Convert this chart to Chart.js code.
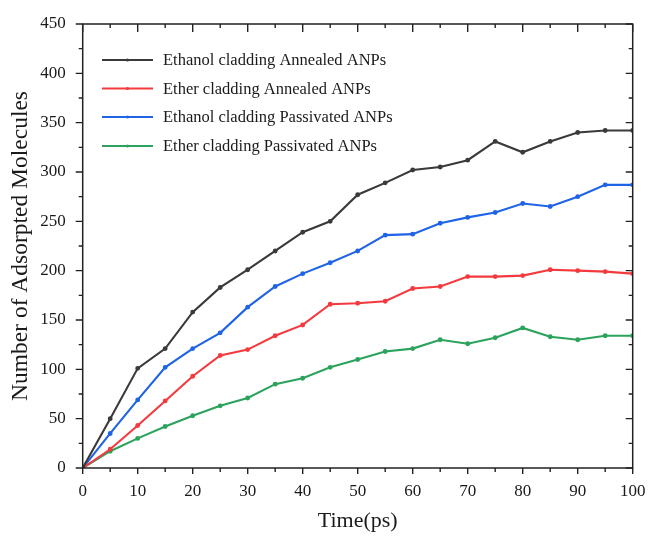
<!DOCTYPE html>
<html>
<head>
<meta charset="utf-8">
<script src="https://cdn.jsdelivr.net/npm/chart.js@4/dist/chart.umd.min.js"></script>
<style>
  html, body { margin: 0; padding: 0; background: #fff; }
  #wrap { width: 649px; height: 538px; position: relative; }
</style>
</head>
<body>
<div id="wrap"><canvas id="c" width="649" height="538"></canvas></div>
<script>
// Adsorption time series, sampled every 5 ps
const timePs = [0, 5, 10, 15, 20, 25, 30, 35, 40, 45, 50, 55, 60, 65, 70, 75, 80, 85, 90, 95, 100];
const ethanolAnnealed   = [0, 50, 101, 121, 158, 183, 201, 220, 239, 250, 277, 289, 302, 305, 312, 331, 320, 331, 340, 342, 342];
const etherAnnealed     = [0, 19, 43, 68, 93, 114, 120, 134, 145, 166, 167, 169, 182, 184, 194, 194, 195, 201, 200, 199, 197];
const ethanolPassivated = [0, 35, 69, 102, 121, 137, 163, 184, 197, 208, 220, 236, 237, 248, 254, 259, 268, 265, 275, 287, 287];
const etherPassivated   = [0, 17, 30, 42, 53, 63, 71, 85, 91, 102, 110, 118, 121, 130, 126, 132, 142, 133, 130, 134, 134];

const seriesLabels = [
  'Ethanol cladding Annealed ANPs',
  'Ether cladding Annealed ANPs',
  'Ethanol cladding Passivated ANPs',
  'Ether cladding Passivated ANPs'
];
const xTicks = [0, 10, 20, 30, 40, 50, 60, 70, 80, 90, 100];
const yTicks = [0, 50, 100, 150, 200, 250, 300, 350, 400, 450];

const colors = ['#3a3a3a', '#f43a3e', '#1f63e6', '#2ba35c'];
const serif = '"Liberation Serif", "Times New Roman", serif';
const axisColor = '#222';

function toPoints(arr) { return arr.map((v, i) => ({ x: timePs[i], y: v })); }

const seriesData = [ethanolAnnealed, etherAnnealed, ethanolPassivated, etherPassivated];

const datasets = seriesData.map((arr, i) => ({
  label: seriesLabels[i],
  data: toPoints(arr),
  borderColor: colors[i],
  backgroundColor: colors[i],
  borderWidth: 2.1,
  pointRadius: 1.4,
  pointHoverRadius: 1.4,
  pointStyle: 'circle',
  tension: 0
}));

// Frame on all four sides, with major/minor ticks (outward on left/bottom, inward on top/right)
const framePlugin = {
  id: 'frameTicks',
  afterDraw(chart) {
    const { ctx, chartArea: a, scales: { x, y } } = chart;
    ctx.save();
    ctx.strokeStyle = axisColor;
    ctx.lineWidth = 1.5;
    ctx.strokeRect(a.left, a.top, a.right - a.left, a.bottom - a.top);
    ctx.lineWidth = 1.4;
    ctx.beginPath();
    for (let v = 0; v <= 100; v += 5) {
      const px = x.getPixelForValue(v);
      const major = v % 10 === 0;
      const len = major ? 6 : 4;
      ctx.moveTo(px, a.bottom); ctx.lineTo(px, a.bottom + len);
      ctx.moveTo(px, a.top); ctx.lineTo(px, a.top + (major ? 8 : 4));
    }
    for (let v = 0; v <= 450; v += 25) {
      const py = y.getPixelForValue(v);
      const major = v % 50 === 0;
      ctx.moveTo(a.left, py); ctx.lineTo(a.left - (major ? 7 : 4), py);
      ctx.moveTo(a.right, py); ctx.lineTo(a.right - (major ? 7 : 4), py);
    }
    ctx.stroke();
    ctx.restore();
  }
};

// Legend drawn inside the plotting area, top-left
const legendPlugin = {
  id: 'innerLegend',
  afterDatasetsDraw(chart) {
    const { ctx } = chart;
    const x0 = 102, x1 = 153, tx = 163;
    const rows = [60, 88.5, 117, 146];
    ctx.save();
    ctx.font = '16.5px ' + serif;
    ctx.textBaseline = 'middle';
    ctx.textAlign = 'left';
    chart.data.datasets.forEach((ds, i) => {
      const yy = rows[i];
      ctx.strokeStyle = ds.borderColor;
      ctx.lineWidth = 2.2;
      ctx.beginPath();
      ctx.moveTo(x0, yy); ctx.lineTo(x1, yy);
      ctx.stroke();
      ctx.fillStyle = ds.borderColor;
      ctx.beginPath();
      ctx.arc((x0 + x1) / 2, yy, 1.6, 0, Math.PI * 2);
      ctx.fill();
      ctx.fillStyle = '#1a1a1a';
      ctx.fillText(ds.label, tx, yy + 1);
    });
    ctx.restore();
  }
};

new Chart(document.getElementById('c'), {
  type: 'line',
  data: { datasets },
  options: {
    responsive: false,
    animation: false,
    events: [],
    layout: { padding: { top: 24, right: 16.3, left: 0, bottom: 0 } },
    plugins: { legend: { display: false }, tooltip: { enabled: false } },
    scales: {
      x: {
        type: 'linear',
        min: 0, max: 100,
        afterBuildTicks(scale) { scale.ticks = xTicks.map(v => ({ value: v })); },
        afterFit(scale) {
          scale.height = 70;
          scale.paddingLeft = 0;
          scale.paddingRight = 0;
        },
        grid: { display: false, drawTicks: false },
        border: { display: false },
        ticks: {
          padding: 13,
          color: '#1a1a1a',
          font: { family: serif, size: 17 },
          maxRotation: 0,
          autoSkip: false
        },
        title: {
          display: true,
          text: 'Time(ps)',
          color: '#1a1a1a',
          font: { family: serif, size: 22 },
          padding: { top: 0, bottom: 4 }
        }
      },
      y: {
        type: 'linear',
        min: 0, max: 450,
        afterBuildTicks(scale) { scale.ticks = yTicks.map(v => ({ value: v })); },
        afterFit(scale) {
          scale.width = 82.7;
          scale.paddingTop = 0;
          scale.paddingBottom = 0;
        },
        grid: { display: false, drawTicks: false },
        border: { display: false },
        ticks: {
          padding: 17,
          color: '#1a1a1a',
          font: { family: serif, size: 17 },
          autoSkip: false
        },
        title: {
          display: true,
          text: 'Number of Adsorpted Molecules',
          color: '#1a1a1a',
          font: { family: serif, size: 23.5 },
          padding: { top: 7, bottom: 0 }
        }
      }
    }
  },
  plugins: [framePlugin, legendPlugin]
});
</script>
</body>
</html>
